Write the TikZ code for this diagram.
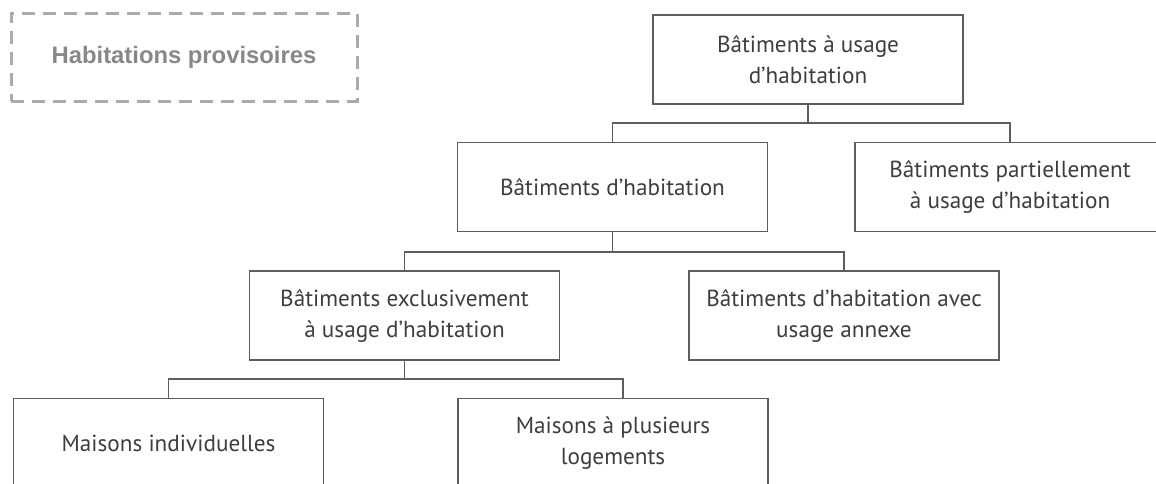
\documentclass[tikz,border=0pt]{standalone}
\usepackage{fontspec}
\setmainfont{PT Sans}
\newfontfamily\labelfont{Liberation Sans}
\definecolor{boxline}{HTML}{5E5E5E}
\definecolor{boxtext}{HTML}{3E3E3E}
\definecolor{dashgray}{HTML}{ABABAB}
\definecolor{provtext}{HTML}{888888}
\begin{document}
\begin{tikzpicture}[x=0.5pt,y=-0.5pt,
  catbox/.style={draw=boxline, line width=0.8pt, rectangle, align=center,
    minimum width=155pt, minimum height=44.5pt, inner sep=0pt,
    text=boxtext, font=\fontsize{11.6}{15.5}\selectfont},
  conn/.style={draw=boxline, line width=0.8pt},
  provbox/.style={draw=dashgray, line width=1.5pt, dash pattern=on 6.5pt off 4pt,
    minimum width=173pt, minimum height=44pt, inner sep=0pt,
    text=provtext, font=\labelfont\bfseries\fontsize{11.9}{14}\selectfont}]
\path[use as bounding box, clip] (0,0) rectangle (1156,483);
\fill[white] (0,0) rectangle (1156,483);

\node[provbox] (prov) at (184,57) {Habitations provisoires};

\node[catbox] (top) at (808,59.5) {Bâtiments à usage\\d’habitation};
\node[catbox] (hab) at (612.5,187) {Bâtiments d’habitation};
\node[catbox] (part) at (1010,187) {Bâtiments partiellement\\à usage d’habitation};
\node[catbox] (excl) at (404.5,315.5) {Bâtiments exclusivement\\à usage d’habitation};
\node[catbox] (annexe) at (844,315.5) {Bâtiments d’habitation avec\\usage annexe};
\node[catbox] (mind) at (168.5,443) {Maisons individuelles};
\node[catbox] (mplus) at (613,443) {Maisons à plusieurs\\logements};

\coordinate (b1) at (0,123);
\coordinate (b2) at (0,252);
\coordinate (b3) at (0,379);

\draw[conn] (top.south) -- (top.south |- b1) -| (hab.north);
\draw[conn] (top.south) -- (top.south |- b1) -| (part.north);
\draw[conn] (hab.south) -- (hab.south |- b2) -| (excl.north);
\draw[conn] (hab.south) -- (hab.south |- b2) -| (annexe.north);
\draw[conn] (excl.south) -- (excl.south |- b3) -| (mind.north);
\draw[conn] (excl.south) -- (excl.south |- b3) -| ([xshift=5pt]mplus.north);
\end{tikzpicture}
\end{document}
